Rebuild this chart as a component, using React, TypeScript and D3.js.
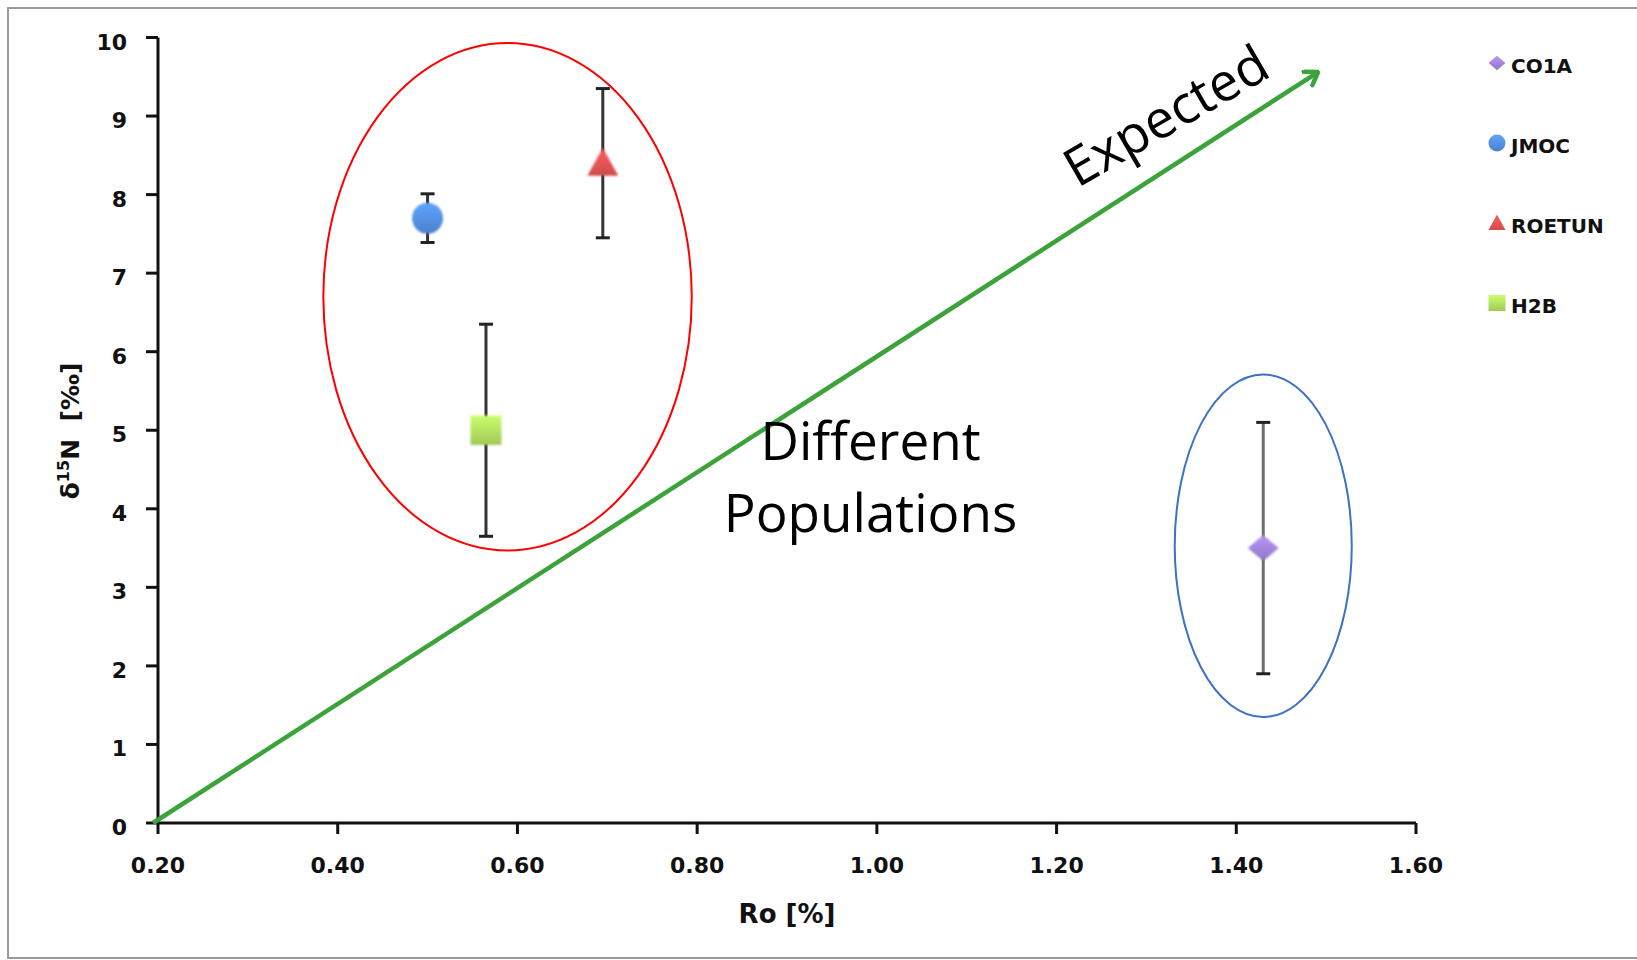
import React from "react";
import * as d3 from "d3";

// ---- data ----
const seriesNames = ["CO1A", "JMOC", "ROETUN", "H2B"];
const roValues = [1.43, 0.5, 0.695, 0.565];
const d15NValues = [3.5, 7.7, 8.4, 5.0];
const errValues = [1.6, 0.31, 0.95, 1.35];
const seriesColors = ["#9a7dd0", "#4f88d8", "#d9504f", "#a9d45c"];
const seriesShapes = ["diamond", "circle", "triangle", "square"];

const xTicks = [0.2, 0.4, 0.6, 0.8, 1.0, 1.2, 1.4, 1.6];
const yTicks = [0, 1, 2, 3, 4, 5, 6, 7, 8, 9, 10];

// annotations in data units
const arrowFrom = [0.2, 0];
const arrowTo = [1.491, 9.56];
const redEllipse = { cx: 0.589, cy: 6.7, rx: 0.205, ry: 3.23 };
const blueEllipse = { cx: 1.43, cy: 3.53, rx: 0.0985, ry: 2.18 };
const expectedLabel = { x: 1.332, y: 8.8, text: "Expected" };
const diffLabels = [
  { x: 0.993, y: 4.62, text: "Different" },
  { x: 0.993, y: 3.7, text: "Populations" },
];

const W = 1637;
const H = 960;

const x = d3.scaleLinear().domain([0.2, 1.6]).range([158, 1416]);
const y = d3.scaleLinear().domain([0, 10]).range([823, 37.5]);

function markerPath(shape: string, size: number) {
  if (shape === "diamond") {
    const w = size / 2, h = size * 0.42;
    return `M0,${-h}L${w},0L0,${h}L${-w},0Z`;
  }
  if (shape === "triangle") {
    const w = size / 2, h = size * 0.9;
    return `M0,${-h * 0.55}L${w},${h * 0.45}L${-w},${h * 0.45}Z`;
  }
  if (shape === "square") {
    const s = size / 2;
    return `M${-s},${-s * 0.95}H${s}V${s * 0.95}H${-s}Z`;
  }
  return d3.symbol().type(d3.symbolCircle).size((Math.PI * size * size) / 4)() as string;
}

export default function App() {
  const font = "'DejaVu Sans', Verdana, sans-serif";
  const annFont = "'Open Sans', sans-serif";
  const fmt = d3.format(".2f");
  return (
    <div style={{ position: "absolute", left: 0, top: 0, width: W, height: H, background: "#fff" }}>
      <svg width={W} height={H} style={{ display: "block" }}>
        <defs>
          {seriesColors.map((c, i) => (
            <linearGradient key={i} id={`g${i}`} x1="0" y1="0" x2="0" y2="1">
              <stop offset="0" stopColor={d3.color(c)!.brighter(0.5).toString()} />
              <stop offset="1" stopColor={d3.color(c)!.darker(0.15).toString()} />
            </linearGradient>
          ))}
          <filter id="soft" x="-30%" y="-30%" width="160%" height="160%">
            <feGaussianBlur stdDeviation="0.9" />
          </filter>
          <marker id="arrowHead" viewBox="-14 -10 16 20" markerWidth="16" markerHeight="20" refX="0" refY="0" orient="auto" markerUnits="userSpaceOnUse">
            <path d="M-12,-8L0,0L-12,8" fill="none" stroke="#3ba33a" strokeWidth="4.5" strokeLinecap="round" strokeLinejoin="round" />
          </marker>
        </defs>
        <rect x={8} y={8} width={W + 20} height={H - 10} fill="none" stroke="#9a9a9a" strokeWidth={2} />

        {/* axes */}
        <line x1={x(0.2)} x2={x(0.2)} y1={y(0)} y2={y(10)} stroke="#111" strokeWidth={3} />
        <line x1={x(0.2)} x2={x(1.6)} y1={y(0)} y2={y(0)} stroke="#111" strokeWidth={3} />
        {yTicks.map((t) => (
          <g key={t}>
            <line x1={x(0.2) - 12} x2={x(0.2)} y1={y(t)} y2={y(t)} stroke="#111" strokeWidth={3} />
            <text x={127} y={y(t) + 12} textAnchor="end" fontFamily={font} fontWeight="bold" fontSize={22} fill="#111">
              {t}
            </text>
          </g>
        ))}
        {xTicks.map((t) => (
          <g key={t}>
            <line x1={x(t)} x2={x(t)} y1={y(0)} y2={y(0) + 11} stroke="#111" strokeWidth={3} />
            <text x={x(t)} y={873} textAnchor="middle" fontFamily={font} fontWeight="bold" fontSize={22} fill="#111">
              {fmt(t)}
            </text>
          </g>
        ))}
        <text x={787} y={923} textAnchor="middle" fontFamily={font} fontWeight="bold" fontSize={26} fill="#111">
          Ro [%]
        </text>
        <text transform="translate(79,431) rotate(-90)" textAnchor="middle" fontFamily={font} fontWeight="bold" fontSize={25} fill="#111" xmlSpace="preserve">
          δ<tspan fontSize={16} dy={-10}>15</tspan>
          <tspan dy={10}>N  [‰]</tspan>
        </text>

        {/* ellipses */}
        <ellipse cx={x(redEllipse.cx)} cy={y(redEllipse.cy)} rx={x(0.2 + redEllipse.rx) - x(0.2)} ry={y(0) - y(redEllipse.ry)} fill="none" stroke="#ff0000" strokeWidth={2} />
        <ellipse cx={x(blueEllipse.cx)} cy={y(blueEllipse.cy)} rx={x(0.2 + blueEllipse.rx) - x(0.2)} ry={y(0) - y(blueEllipse.ry)} fill="none" stroke="#3c72bf" strokeWidth={2} />

        {/* arrow */}
        <line x1={x(arrowFrom[0]) - 5} y1={y(arrowFrom[1])} x2={x(arrowTo[0])} y2={y(arrowTo[1])} stroke="#3ba33a" strokeWidth={4.5} markerEnd="url(#arrowHead)" />

        {/* error bars and markers */}
        {seriesNames.map((n, i) => {
          const cx = x(roValues[i]);
          const cy = y(d15NValues[i]);
          const top = y(d15NValues[i] + errValues[i]);
          const bot = y(d15NValues[i] - errValues[i]);
          const barColor = i === 0 ? "#6e6e6e" : "#333";
          return (
            <g key={n}>
              <line x1={cx} x2={cx} y1={top} y2={bot} stroke={barColor} strokeWidth={3} />
              <line x1={cx - 7} x2={cx + 7} y1={top} y2={top} stroke="#222" strokeWidth={3} />
              <line x1={cx - 7} x2={cx + 7} y1={bot} y2={bot} stroke="#222" strokeWidth={3} />
              <path d={markerPath(seriesShapes[i], 31)} transform={`translate(${cx},${cy})`} fill={`url(#g${i})`} filter="url(#soft)" />
            </g>
          );
        })}

        {/* legend */}
        {seriesNames.map((n, i) => {
          const ly = 63 + i * 80;
          return (
            <g key={n}>
              <path d={markerPath(seriesShapes[i], 17)} transform={`translate(1497,${ly})`} fill={`url(#g${i})`} />
              <text x={1511} y={ly + 10} fontFamily={font} fontWeight="bold" fontSize={20} fill="#111">
                {n}
              </text>
            </g>
          );
        })}

        {/* annotations */}
        <text transform={`translate(${x(expectedLabel.x)},${y(expectedLabel.y)}) rotate(-30)`} textAnchor="middle" fontFamily={annFont} fontSize={53} fill="#000">
          {expectedLabel.text}
        </text>
        {diffLabels.map((d) => (
          <text key={d.text} x={x(d.x)} y={y(d.y)} textAnchor="middle" fontFamily={annFont} fontSize={53} fill="#000">
            {d.text}
          </text>
        ))}
      </svg>
    </div>
  );
}
